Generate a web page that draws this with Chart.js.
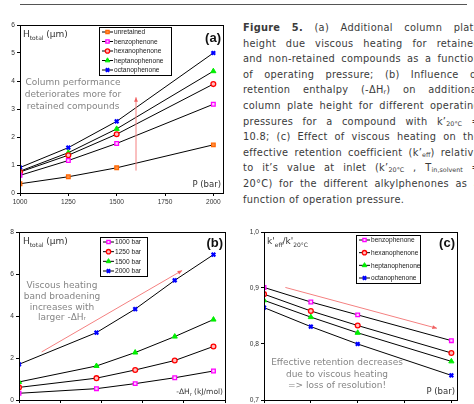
<!DOCTYPE html>
<html>
<head>
<meta charset="utf-8">
<script src="https://cdn.jsdelivr.net/npm/chart.js@4.4.0/dist/chart.umd.min.js"></script>
<style>
  body { margin: 0; width: 474px; height: 404px; overflow: hidden; background: #fff; position: relative; }
  .box { position: absolute; width: 235px; height: 200px; }
  .rule { position: absolute; left: 20px; top: 4px; width: 447px; height: 1px; background: #555; }
  .cap { position: absolute; left: 243px; top: 20px; width: 237px; font-family: "DejaVu Sans", sans-serif;
         font-size: 9.8px; letter-spacing: 0.3px; line-height: 15.6px; color: #3a3a3a; }
  .cap .l { display: flex; justify-content: space-between; height: 15.6px; white-space: nowrap; }
  .cap .l.last { justify-content: flex-start; }
  .cap .l.last span { margin-right: 3.6px; }
  .cap sub { font-size: 6.4px; vertical-align: -1px; line-height: 0; letter-spacing: 0; }
</style>
</head>
<body>
<div class="rule"></div>
<div class="cap" id="cap"></div>
<div class="box" style="left:0;top:15px"><canvas id="chartA"></canvas></div>
<div class="box" style="left:0;top:222px"><canvas id="chartB"></canvas></div>
<div class="box" style="left:235px;top:222px"><canvas id="chartC"></canvas></div>

<script>
// (a) plate height vs pressure
const pressures = [1000, 1250, 1500, 2000];
const pressureTicks = [1000, 1250, 1500, 1750, 2000];
const compoundsA = ['unretained', 'benzophenone', 'hexanophenone', 'heptanophenone', 'octanophenone'];
const hUnretained = [0.33, 0.58, 0.90, 1.72];
const hBenzo = [0.63, 1.16, 1.77, 3.17];
const hHexa = [0.75, 1.35, 2.10, 3.89];
const hHepta = [0.78, 1.44, 2.29, 4.35];
const hOcta = [0.91, 1.62, 2.56, 5.00];

// (b) plate height vs retention enthalpy
const enthalpies = [0, 9.4, 14.1, 18.9, 23.6];
const enthalpyTicks = [0, 5, 10, 15, 20, 25];
const pressureNames = ['1000 bar', '1250 bar', '1500 bar', '2000 bar'];
const h1000 = [0.32, 0.54, 0.78, 1.06, 1.38];
const h1250 = [0.60, 1.04, 1.43, 1.88, 2.55];
const h1500 = [0.86, 1.62, 2.26, 3.02, 3.83];
const h2000 = [1.70, 3.21, 4.33, 5.70, 6.92];

// (c) k'eff / k'20C vs pressure
const compoundsC = ['benzophenone', 'hexanophenone', 'heptanophenone', 'octanophenone'];
const kBenzo = [0.901, 0.875, 0.852, 0.806];
const kHexa = [0.889, 0.859, 0.833, 0.784];
const kHepta = [0.878, 0.848, 0.820, 0.769];
const kOcta = [0.865, 0.831, 0.800, 0.744];

const captionLines = [
  '<b>Figure</b> <b>5.</b> (a) Additional column plate',
  'height due viscous heating for retained',
  'and non-retained compounds as a function',
  'of operating pressure; (b) Influence of',
  'retention enthalpy (-ΔH<sub>r</sub>) on additional',
  'column plate height for different operating',
  'pressures for a compound with k’<sub>20°C</sub> =',
  '10.8; (c) Effect of viscous heating on the',
  'effective retention coefficient (k’<sub>eff</sub>) relative',
  'to it’s value at inlet (k’<sub>20°C</sub> , T<sub>in,solvent</sub> =',
  '20°C) for the different alkylphenones as a',
  'function of operation pressure.'
];

const cap = document.getElementById('cap');
captionLines.forEach((line, i) => {
  const div = document.createElement('div');
  div.className = 'l' + (i === captionLines.length - 1 ? ' last' : '');
  div.innerHTML = line.split(' ').map(w => '<span>' + w + '</span>').join('');
  cap.appendChild(div);
});

const markers = {
  orange: { style: 'rect', r: 2.6, color: '#FF6600', fill: '#FF8C40', bw: 1.2 },
  pink: { style: 'rect', r: 2.6, color: '#FF00FF', fill: '#FFD0FF', bw: 1.3 },
  red: { style: 'circle', r: 2.4, color: '#FF0000', fill: '#FFC0C0', bw: 1.3 },
  green: { style: 'triangle', r: 3, color: '#00EE00', fill: '#00EE00', bw: 1 },
  blue: { style: 'crossRot', r: 2.6, color: '#0000FF', fill: '#0000FF', bw: 2.2 }
};

function series(label, xs, ys, m) {
  return {
    label: label,
    data: xs.map((x, i) => ({ x: x, y: ys[i] })),
    borderColor: '#000', borderWidth: 1, tension: 0,
    pointStyle: m.style, pointRadius: m.r, pointBorderColor: m.color,
    pointBackgroundColor: m.fill, pointBorderWidth: m.bw, _m: m
  };
}

function drawRich(ctx, parts, x, y, align, size, color) {
  const big = size + 'px "DejaVu Sans"';
  const small = Math.round(size * 0.66) + 'px "DejaVu Sans"';
  let w = 0;
  parts.forEach(p => { ctx.font = p[1] ? small : big; w += ctx.measureText(p[0]).width; });
  let cx = align === 'right' ? x - w : x;
  ctx.fillStyle = color;
  ctx.textBaseline = 'middle';
  ctx.textAlign = 'left';
  parts.forEach(p => {
    ctx.font = p[1] ? small : big;
    ctx.fillText(p[0], cx, p[1] ? y + 3 : y);
    cx += ctx.measureText(p[0]).width;
  });
}

const panel = {
  id: 'panel',
  afterDraw(chart, args, o) {
    const { ctx, chartArea: a, scales } = chart;
    ctx.save();
    ctx.strokeStyle = '#000';
    ctx.lineWidth = 1;
    ctx.strokeRect(Math.round(a.left) + 0.5, Math.round(a.top) + 0.5, Math.round(a.right - a.left), Math.round(a.bottom - a.top));

    // arrow
    const x1 = scales.x.getPixelForValue(o.arrow[0][0]), y1 = scales.y.getPixelForValue(o.arrow[0][1]);
    const x2 = scales.x.getPixelForValue(o.arrow[1][0]), y2 = scales.y.getPixelForValue(o.arrow[1][1]);
    ctx.strokeStyle = '#F48080';
    ctx.fillStyle = '#F06060';
    ctx.beginPath(); ctx.moveTo(x1, y1); ctx.lineTo(x2, y2); ctx.stroke();
    const ang = Math.atan2(y2 - y1, x2 - x1);
    ctx.beginPath();
    ctx.moveTo(x2, y2);
    ctx.lineTo(x2 - 5 * Math.cos(ang - 0.4), y2 - 5 * Math.sin(ang - 0.4));
    ctx.lineTo(x2 - 5 * Math.cos(ang + 0.4), y2 - 5 * Math.sin(ang + 0.4));
    ctx.closePath(); ctx.fill();

    // notes
    ctx.font = '9px "DejaVu Sans"';
    ctx.fillStyle = '#858585';
    ctx.textAlign = 'center';
    ctx.textBaseline = 'middle';
    o.note.forEach((t, i) => ctx.fillText(t, o.noteX, o.noteY + i * o.noteGap));

    drawRich(ctx, o.ylabel, o.ylabelPos[0], o.ylabelPos[1], 'left', 9, '#333');
    drawRich(ctx, o.xlabel, a.right - 2, a.bottom - 8, 'right', o.xlabelSize, '#333');

    ctx.font = 'bold 13px "Liberation Sans"';
    ctx.fillStyle = '#111';
    ctx.textAlign = 'right';
    ctx.fillText(o.letter, a.right - 2, o.letterY);

    // legend
    const L = o.legend;
    ctx.fillStyle = '#fff';
    ctx.fillRect(L[0], L[1], L[2], L[3]);
    ctx.strokeStyle = '#000';
    ctx.strokeRect(L[0] + 0.5, L[1] + 0.5, L[2], L[3]);
    const ds = chart.data.datasets;
    const gap = (L[3] - 10) / (ds.length - 1);
    ds.forEach((d, i) => {
      const y = L[1] + 5 + i * gap;
      ctx.strokeStyle = '#000';
      ctx.lineWidth = 1;
      ctx.beginPath(); ctx.moveTo(L[0] + 3, y); ctx.lineTo(L[0] + 14, y); ctx.stroke();
      const m = d._m;
      ctx.strokeStyle = m.color; ctx.fillStyle = m.fill;
      ctx.lineWidth = m.bw;
      Chart.helpers.drawPoint(ctx, { pointStyle: m.style, radius: m.r * 0.9, borderWidth: m.bw, rotation: 0 }, L[0] + 8.5, y);
      ctx.fillStyle = '#222';
      ctx.font = '6.6px "Liberation Sans"';
      ctx.textAlign = 'left';
      ctx.textBaseline = 'middle';
      ctx.fillText(d.label, L[0] + 15, y + 0.5);
    });
    ctx.restore();
  }
};

function makeChart(id, datasets, xs, ys, yWidth, rightPad, cfg) {
  const tickFont = { family: 'Liberation Sans', size: 6.6 };
  const el = document.getElementById(id);
  el.width = 235; el.height = 200;
  return new Chart(el, {
    type: 'line',
    data: { datasets: datasets },
    plugins: [panel],
    options: {
      responsive: false, animation: false,
      layout: { padding: { left: 0, top: 10, right: rightPad, bottom: 8 } },
      plugins: { legend: { display: false }, tooltip: { enabled: false }, panel: cfg },
      scales: {
        x: {
          type: 'linear', min: xs.min, max: xs.max,
          afterBuildTicks: s => { s.ticks = xs.ticks.map(v => ({ value: v })); },
          afterFit: s => { s.height = 14; },
          grid: { drawOnChartArea: false, tickLength: 3, color: '#000' },
          border: { color: '#000' },
          ticks: { font: tickFont, color: '#333', padding: 2, maxRotation: 0, callback: v => String(v) }
        },
        y: {
          min: ys.min, max: ys.max,
          ticks: { stepSize: ys.step, font: tickFont, color: '#333', padding: 2, callback: ys.fmt },
          afterFit: s => { s.width = yWidth; },
          grid: { drawOnChartArea: false, tickLength: 3, color: '#000' },
          border: { color: '#000' }
        }
      }
    }
  });
}

makeChart('chartA', [
  series(compoundsA[0], pressures, hUnretained, markers.orange),
  series(compoundsA[1], pressures, hBenzo, markers.pink),
  series(compoundsA[2], pressures, hHexa, markers.red),
  series(compoundsA[3], pressures, hHepta, markers.green),
  series(compoundsA[4], pressures, hOcta, markers.blue)
], { min: 1000, max: 2050, ticks: pressureTicks },
   { min: 0, max: 6, step: 1, fmt: v => String(v) }, 20, 12, {
  letter: '(a)', letterY: 23,
  ylabel: [['H'], ['total', 1], [' (µm)']], ylabelPos: [23, 20],
  xlabel: [['P (bar)']], xlabelSize: 8.5,
  note: ['Column performance', 'deteriorates more for', 'retained compounds'], noteX: 73, noteY: 68, noteGap: 12,
  arrow: [[1600, 0.8], [1600, 3.42]],
  legend: [99, 12, 72, 48]
});

makeChart('chartB', [
  series(pressureNames[0], enthalpies, h1000, markers.pink),
  series(pressureNames[1], enthalpies, h1250, markers.red),
  series(pressureNames[2], enthalpies, h1500, markers.green),
  series(pressureNames[3], enthalpies, h2000, markers.blue)
], { min: 0, max: 25, ticks: enthalpyTicks },
   { min: 0, max: 8, step: 2, fmt: v => String(v) }, 19, 10, {
  letter: '(b)', letterY: 21,
  ylabel: [['H'], ['total', 1], [' (µm)']], ylabelPos: [23, 20],
  xlabel: [['-ΔH'], ['r', 1], [' (kJ/mol)']], xlabelSize: 7.5,
  note: ['Viscous heating', 'band broadening', 'increases with', 'larger -ΔHᵣ'], noteX: 62, noteY: 64, noteGap: 10.7,
  arrow: [[2.75, 2.29], [19.8, 6.17]],
  legend: [100, 15, 47, 39]
});

makeChart('chartC', [
  series(compoundsC[0], pressures, kBenzo, markers.pink),
  series(compoundsC[1], pressures, kHexa, markers.red),
  series(compoundsC[2], pressures, kHepta, markers.green),
  series(compoundsC[3], pressures, kOcta, markers.blue)
], { min: 1000, max: 2030, ticks: pressureTicks },
   { min: 0.7, max: 1.0, step: 0.1, fmt: v => v.toFixed(1).replace('.', ',') }, 29, 13, {
  letter: '(c)', letterY: 21,
  ylabel: [["k'"], ['eff', 1], ["/k'"], ['20°C', 1]], ylabelPos: [32, 20],
  xlabel: [['P (bar)']], xlabelSize: 8.5,
  note: ['Effective retention decreases', 'due to viscous heating', '=> loss of resolution!'], noteX: 102, noteY: 141, noteGap: 11.5,
  arrow: [[1114, 0.901], [1923, 0.828]],
  legend: [121, 13, 64, 48]
});
</script>
</body>
</html>
